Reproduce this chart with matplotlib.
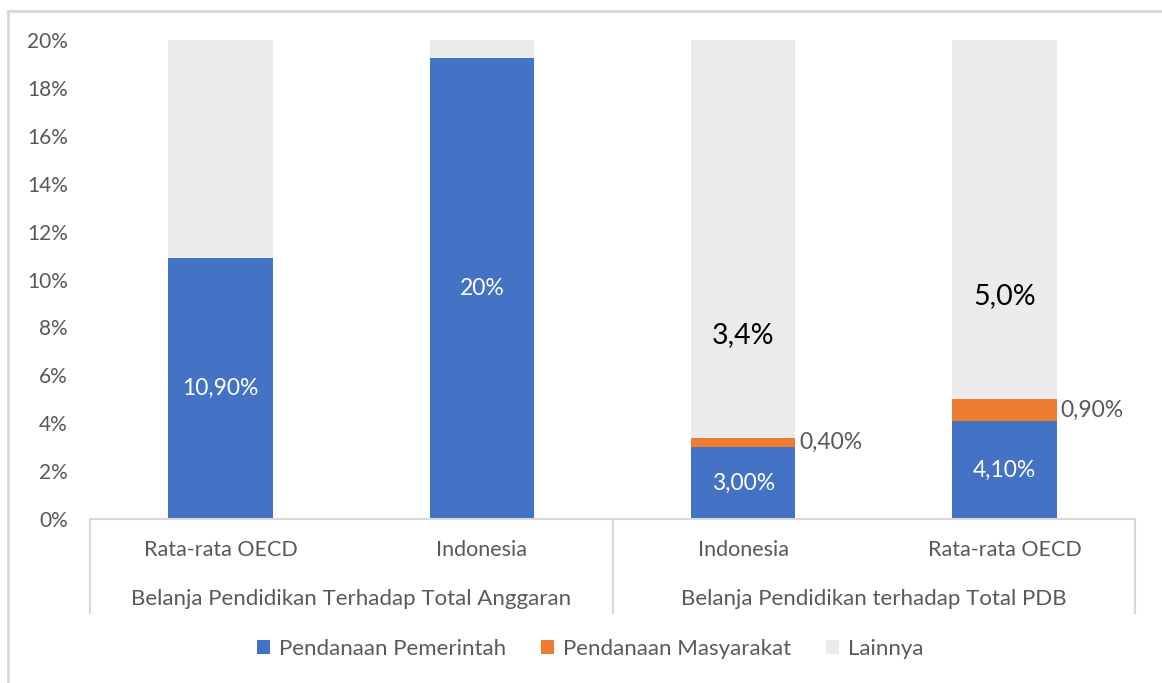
import matplotlib
matplotlib.use("Agg")
import matplotlib.pyplot as plt
from matplotlib.patches import Patch
from matplotlib.lines import Line2D

# ---- data ----
categories = ["Rata-rata OECD", "Indonesia", "Indonesia", "Rata-rata OECD"]
groups = ["Belanja Pendidikan Terhadap Total Anggaran", "Belanja Pendidikan terhadap Total PDB"]
pemerintah = [10.9, 19.25, 3.0, 4.1]
masyarakat = [0.0, 0.0, 0.4, 0.9]
total_axis = 20.0
lainnya = [total_axis - p - m for p, m in zip(pemerintah, masyarakat)]
label_pemerintah = ["10,90%", "20%", "3,00%", "4,10%"]
label_masyarakat = [None, None, "0,40%", "0,90%"]
label_total = [None, None, "3,4%", "5,0%"]
yticks = [0, 2, 4, 6, 8, 10, 12, 14, 16, 18, 20]
series_names = ["Pendanaan Pemerintah", "Pendanaan Masyarakat", "Lainnya"]

# ---- style ----
BLUE = "#4472C4"
ORANGE = "#ED7D31"
GRAY = "#EBEBEB"
TXT = "#595959"
LINE = "#D9D9D9"
plt.rcParams['font.family'] = ['Lato', 'DejaVu Sans']

W, H = 1162, 683
fig = plt.figure(figsize=(W / 100, H / 100), dpi=100)
ax = fig.add_axes([90 / W, (H - 519) / H, 1045 / W, 479 / H])

x = list(range(len(categories)))
bw = 0.4
ax.bar(x, pemerintah, bw, color=BLUE, zorder=2)
ax.bar(x, masyarakat, bw, bottom=pemerintah, color=ORANGE, zorder=2)
bottoms = [p + m for p, m in zip(pemerintah, masyarakat)]
ax.bar(x, lainnya, bw, bottom=bottoms, color=GRAY, zorder=1)

ax.set_xlim(-0.5, 3.5)
ax.set_ylim(0, 20)
ax.set_yticks(yticks)
ax.set_yticklabels([f"{t}%" for t in yticks], color=TXT, fontsize=15)
ax.tick_params(axis='y', length=0, pad=16)
ax.set_xticks([])
for s in ax.spines.values():
    s.set_visible(False)

# data labels
for i in x:
    ax.text(i, pemerintah[i] / 2, label_pemerintah[i], ha='center', va='center',
            color='white', fontsize=16.5)
    if label_masyarakat[i]:
        ax.text(i + bw / 2 + 0.015, pemerintah[i] + masyarakat[i] / 2, label_masyarakat[i],
                ha='left', va='center', color=TXT, fontsize=16.5)
total_label_y = [None, None, 7.7, 9.3]
for i in x:
    if label_total[i]:
        ax.text(i, total_label_y[i], label_total[i], ha='center', va='center',
                color='black', fontsize=20.5)

# multi-level category axis
tr = ax.get_xaxis_transform()
box_depth = -0.197
ax.plot([-0.5, 3.5], [0, 0], color=LINE, lw=1.5, transform=tr, clip_on=False)
for xv in [-0.5, 1.5, 3.5]:
    ax.plot([xv, xv], [0, box_depth], color=LINE, lw=1.5, transform=tr, clip_on=False)
for i, c in enumerate(categories):
    ax.text(i, -0.065, c, ha='center', va='center', color=TXT, fontsize=15.5, transform=tr)
for g, gx in zip(groups, [0.5, 2.5]):
    ax.text(gx, -0.167, g, ha='center', va='center', color=TXT, fontsize=16, transform=tr)

# legend
handles = [Patch(facecolor=BLUE), Patch(facecolor=ORANGE), Patch(facecolor=GRAY)]
fig.legend(handles, series_names, loc='center', bbox_to_anchor=(0.508, (H - 649) / H),
           ncol=3, frameon=False, fontsize=16, labelcolor=TXT,
           handlelength=0.6, handleheight=0.6, handletextpad=0.4, columnspacing=1.55)

# outer chart border (top & left visible)
fig.add_artist(Line2D([8 / W, 1.0], [1 - 11 / H, 1 - 11 / H], color=LINE, lw=2))
fig.add_artist(Line2D([8 / W, 8 / W], [0, 1 - 11 / H], color=LINE, lw=2))

fig.savefig("out.png", dpi=100)
